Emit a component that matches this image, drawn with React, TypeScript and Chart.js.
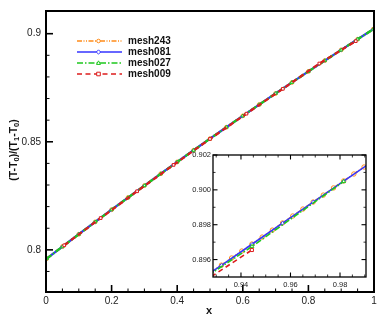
import { useEffect, useRef } from "react";
import { Chart, registerables } from "chart.js";
Chart.register(...registerables);

// ---------- main chart data ----------
const mainX = [0.002, 0.05, 0.1, 0.15, 0.2, 0.25, 0.3, 0.35, 0.4, 0.45, 0.5, 0.55, 0.6, 0.65, 0.7, 0.75, 0.8, 0.85, 0.9, 0.95, 0.998];
const main243Y = [0.79593, 0.80149, 0.80723, 0.81293, 0.81857, 0.82417, 0.82972, 0.83522, 0.84067, 0.84607, 0.85142, 0.85673, 0.86199, 0.8672, 0.87236, 0.87747, 0.88253, 0.88755, 0.89251, 0.89743, 0.90211];
const main081Y = [0.79595, 0.80150, 0.80724, 0.81293, 0.81857, 0.82417, 0.82972, 0.83522, 0.84067, 0.84607, 0.85142, 0.85673, 0.86199, 0.8672, 0.87236, 0.87747, 0.88253, 0.88755, 0.89251, 0.89743, 0.90210];
const main027Y = [0.79590, 0.80145, 0.80720, 0.81290, 0.81855, 0.82415, 0.82970, 0.83520, 0.84065, 0.84605, 0.85140, 0.85671, 0.86197, 0.86718, 0.87234, 0.87745, 0.88251, 0.88753, 0.89249, 0.89741, 0.90208];
const main009X = [0.0556, 0.1667, 0.2778, 0.3889, 0.5, 0.6111, 0.7222, 0.8333, 0.9444];
const main009Y = [0.8021, 0.8147, 0.8271, 0.8393, 0.8513, 0.863, 0.8745, 0.8862, 0.89655];

const mainXTicks = [0, 0.2, 0.4, 0.6, 0.8, 1];
const mainXLabels = ["0", "0.2", "0.4", "0.6", "0.8", "1"];
const mainXMinor = [0.05, 0.1, 0.15, 0.25, 0.3, 0.35, 0.45, 0.5, 0.55, 0.65, 0.7, 0.75, 0.85, 0.9, 0.95];
const mainYTicks = [0.8, 0.85, 0.9];
const mainYLabels = ["0.8", "0.85", "0.9"];
const mainYMinor = [0.79, 0.81, 0.82, 0.83, 0.84, 0.86, 0.87, 0.88, 0.89];

// ---------- inset data ----------
const inset243X = [0.92798, 0.9321, 0.93621, 0.94033, 0.94444, 0.94856, 0.95267, 0.95679, 0.96091, 0.96502, 0.96914, 0.97325, 0.97737, 0.98148, 0.9856, 0.98971, 0.99383];
const inset243Y = [0.89528, 0.89568, 0.89609, 0.89649, 0.89689, 0.89729, 0.89769, 0.8981, 0.8985, 0.8989, 0.8993, 0.8997, 0.90011, 0.90051, 0.90091, 0.90131, 0.90171];
const inset081X = [0.91975, 0.9321, 0.94444, 0.95679, 0.96914, 0.98148, 0.99383];
const inset081Y = [0.89448, 0.89567, 0.89688, 0.89809, 0.8993, 0.9005, 0.9017];
const inset027X = [0.90741, 0.94444, 0.98148];
const inset027Y = [0.89327, 0.89675, 0.90048];
const inset009X = [0.8333, 0.9444];
const inset009Y = [0.8862, 0.89655];

const insetXTicks = [0.94, 0.96, 0.98];
const insetXLabels = ["0.94", "0.96", "0.98"];
const insetXMinor = [0.93, 0.935, 0.945, 0.95, 0.955, 0.965, 0.97, 0.975, 0.985, 0.99];
const insetYTicks = [0.896, 0.898, 0.9, 0.902];
const insetYLabels = ["0.896", "0.898", "0.900", "0.902"];
const insetYMinor = [0.897, 0.899, 0.901];

const seriesNames = ["mesh243", "mesh081", "mesh027", "mesh009"];
const colors = { m243: "#ff8c1a", m081: "#3535ff", m027: "#1ec81e", m009: "#dd1c1c" };

const FONT = "'Liberation Sans', Arial, Helvetica, sans-serif";

const zip = (xs: number[], ys: number[]) => xs.map((x, i) => ({ x, y: ys[i] }));

function drawMarker(ctx: CanvasRenderingContext2D, style: string, x: number, y: number, r: number, color: string) {
  ctx.save();
  ctx.setLineDash([]);
  ctx.fillStyle = "#fff";
  ctx.strokeStyle = color;
  ctx.lineWidth = 1;
  ctx.beginPath();
  if (style === "rect") {
    ctx.rect(x - r, y - r, 2 * r, 2 * r);
  } else if (style === "triangle") {
    ctx.moveTo(x, y - r * 1.2);
    ctx.lineTo(x + r * 1.1, y + r * 0.8);
    ctx.lineTo(x - r * 1.1, y + r * 0.8);
    ctx.closePath();
  } else if (style === "rectRot") {
    ctx.moveTo(x, y - r * 1.2);
    ctx.lineTo(x + r * 1.2, y);
    ctx.lineTo(x, y + r * 1.2);
    ctx.lineTo(x - r * 1.2, y);
    ctx.closePath();
  } else {
    ctx.arc(x, y, r, 0, Math.PI * 2);
  }
  ctx.fill();
  ctx.stroke();
  ctx.restore();
}

function makeDatasets(d243: any[], d081: any[], d027: any[], d009: any[], radius: number, width: number) {
  // index 0 is drawn on top in Chart.js
  return [
    { label: seriesNames[3], data: d009, borderColor: colors.m009, backgroundColor: "#fff", borderDash: [5, 3.5], borderWidth: width, pointStyle: "rect", pointRadius: radius, pointBorderWidth: 1, showLine: true },
    { label: seriesNames[2], data: d027, borderColor: colors.m027, backgroundColor: "#fff", borderDash: [6, 2, 1.5, 2], borderWidth: width, pointStyle: "triangle", pointRadius: radius, pointBorderWidth: 1, showLine: true },
    { label: seriesNames[1], data: d081, borderColor: colors.m081, backgroundColor: "#fff", borderDash: [], borderWidth: width, pointStyle: "rectRot", pointRadius: radius * 0.8, pointBorderWidth: 1, showLine: true },
    { label: seriesNames[0], data: d243, borderColor: colors.m243, backgroundColor: "#fff", borderDash: [5, 1.5, 1, 1.5, 1, 1.5], borderWidth: width, pointStyle: "circle", pointRadius: radius, pointBorderWidth: 1, showLine: true },
  ];
}

function line(ctx: CanvasRenderingContext2D, x1: number, y1: number, x2: number, y2: number) {
  ctx.beginPath();
  ctx.moveTo(x1, y1);
  ctx.lineTo(x2, y2);
  ctx.stroke();
}

const mainDecor = {
  id: "mainDecor",
  afterDraw(chart: any) {
    const { ctx, chartArea: a, scales } = chart;
    const sx = scales.x, sy = scales.y;
    ctx.save();
    ctx.strokeStyle = "#000";
    ctx.setLineDash([]);
    ctx.lineWidth = 1;
    for (const v of mainXMinor) { const p = sx.getPixelForValue(v); line(ctx, p, a.bottom, p, a.bottom - 3.5); }
    for (const v of mainYMinor) { const p = sy.getPixelForValue(v); line(ctx, a.left, p, a.left + 3.5, p); }
    ctx.lineWidth = 1.6;
    for (const v of mainXTicks) { const p = sx.getPixelForValue(v); line(ctx, p, a.bottom, p, a.bottom - 7); }
    for (const v of mainYTicks) { const p = sy.getPixelForValue(v); line(ctx, a.left, p, a.left + 7, p); }
    ctx.lineWidth = 2;
    ctx.strokeRect(a.left, a.top, a.right - a.left, a.bottom - a.top);

    // legend
    const ds = chart.data.datasets;
    const rows = [41, 52, 63, 74];
    for (let i = 0; i < 4; i++) {
      const d = ds[3 - i];
      const y = rows[i];
      ctx.save();
      ctx.strokeStyle = d.borderColor;
      ctx.lineWidth = 1.6;
      ctx.setLineDash(d.borderDash);
      line(ctx, 77, y, 122, y);
      ctx.restore();
      drawMarker(ctx, d.pointStyle, 98.5, y, 1.8, d.borderColor);
      ctx.fillStyle = "#111";
      ctx.font = `bold 10px ${FONT}`;
      ctx.textBaseline = "middle";
      ctx.textAlign = "left";
      ctx.fillText(d.label, 128, y + 0.5);
    }

    // x title
    ctx.fillStyle = "#111";
    ctx.font = `bold 11px ${FONT}`;
    ctx.textAlign = "center";
    ctx.textBaseline = "alphabetic";
    ctx.fillText("x", 209, 314);

    // y title with subscripts
    const segs: [string, boolean][] = [["(T-T", false], ["0", true], [")/(T", false], ["1", true], ["-T", false], ["0", true], [")", false]];
    const big = `bold 10.5px ${FONT}`, small = `bold 7.5px ${FONT}`;
    let total = 0;
    for (const [t, s] of segs) { ctx.font = s ? small : big; total += ctx.measureText(t).width; }
    ctx.save();
    ctx.translate(13, 150);
    ctx.rotate(-Math.PI / 2);
    ctx.textAlign = "left";
    let cx = -total / 2;
    for (const [t, s] of segs) {
      ctx.font = s ? small : big;
      ctx.fillText(t, cx, s ? 6.3 : 3.8);
      cx += ctx.measureText(t).width;
    }
    ctx.restore();
    ctx.restore();
  },
};

const insetDecor = {
  id: "insetDecor",
  afterDraw(chart: any) {
    const { ctx, chartArea: a, scales } = chart;
    const sx = scales.x, sy = scales.y;
    ctx.save();
    ctx.strokeStyle = "#000";
    ctx.setLineDash([]);
    ctx.lineWidth = 0.8;
    for (const v of insetXMinor) { const p = sx.getPixelForValue(v); line(ctx, p, a.bottom, p, a.bottom - 2.5); line(ctx, p, a.top, p, a.top + 2.5); }
    for (const v of insetYMinor) { const p = sy.getPixelForValue(v); line(ctx, a.left, p, a.left + 2.5, p); line(ctx, a.right, p, a.right - 2.5, p); }
    ctx.lineWidth = 1.1;
    for (const v of insetXTicks) { const p = sx.getPixelForValue(v); line(ctx, p, a.bottom, p, a.bottom - 4.5); line(ctx, p, a.top, p, a.top + 4.5); }
    for (const v of insetYTicks) { const p = sy.getPixelForValue(v); line(ctx, a.left, p, a.left + 4.5, p); line(ctx, a.right, p, a.right - 4.5, p); }
    ctx.lineWidth = 1.3;
    ctx.strokeRect(a.left, a.top, a.right - a.left, a.bottom - a.top);
    ctx.restore();
  },
};

const whiteArea = {
  id: "whiteArea",
  beforeDatasetsDraw(chart: any) {
    const { ctx, chartArea: a } = chart;
    ctx.save();
    ctx.fillStyle = "#fff";
    ctx.fillRect(a.left, a.top, a.right - a.left, a.bottom - a.top);
    ctx.restore();
  },
};

export default function App() {
  const mainRef = useRef<HTMLCanvasElement>(null);
  const insetRef = useRef<HTMLCanvasElement>(null);

  useEffect(() => {
    const tickFont = { family: FONT, size: 10 };
    const main = new Chart(mainRef.current!, {
      type: "scatter",
      data: {
        datasets: makeDatasets(zip(mainX, main243Y), zip(mainX, main081Y), zip(mainX, main027Y), zip(main009X, main009Y), 1.9, 2.2) as any,
      },
      options: {
        animation: false,
        responsive: false,
        layout: { padding: { top: 6, right: 8, left: 0, bottom: 0 } },
        plugins: { legend: { display: false }, tooltip: { enabled: false } },
        scales: {
          x: {
            type: "linear",
            min: 0,
            max: 1,
            grid: { display: false, drawTicks: false },
            border: { display: false },
            afterBuildTicks: (s: any) => { s.ticks = mainXTicks.map((v) => ({ value: v })); },
            afterFit: (s: any) => { s.height = 27; },
            ticks: { autoSkip: false, maxRotation: 0, padding: 3, color: "#222", font: tickFont, callback: (_v: any, i: number) => mainXLabels[i] },
          },
          y: {
            type: "linear",
            min: 0.7805,
            max: 0.9105,
            grid: { display: false, drawTicks: false },
            border: { display: false },
            afterBuildTicks: (s: any) => { s.ticks = mainYTicks.map((v) => ({ value: v })); },
            afterFit: (s: any) => { s.width = 46; },
            ticks: { autoSkip: false, padding: 5, color: "#222", font: tickFont, callback: (_v: any, i: number) => mainYLabels[i] },
          },
        },
      },
      plugins: [mainDecor],
    });

    const insetFont = { family: FONT, size: 7.5 };
    const inset = new Chart(insetRef.current!, {
      type: "scatter",
      data: {
        datasets: makeDatasets(zip(inset243X, inset243Y), zip(inset081X, inset081Y), zip(inset027X, inset027Y), zip(inset009X, inset009Y), 2.2, 1.6) as any,
      },
      options: {
        animation: false,
        responsive: false,
        layout: { padding: { top: 10, right: 9, left: 0, bottom: 0 } },
        plugins: { legend: { display: false }, tooltip: { enabled: false } },
        scales: {
          x: {
            type: "linear",
            min: 0.9287,
            max: 0.9905,
            grid: { display: false, drawTicks: false },
            border: { display: false },
            afterBuildTicks: (s: any) => { s.ticks = insetXTicks.map((v) => ({ value: v })); },
            afterFit: (s: any) => { s.height = 18; },
            ticks: { autoSkip: false, maxRotation: 0, padding: 3, color: "#222", font: insetFont, callback: (_v: any, i: number) => insetXLabels[i] },
          },
          y: {
            type: "linear",
            min: 0.895,
            max: 0.902,
            grid: { display: false, drawTicks: false },
            border: { display: false },
            afterBuildTicks: (s: any) => { s.ticks = insetYTicks.map((v) => ({ value: v })); },
            afterFit: (s: any) => { s.width = 33; },
            ticks: { autoSkip: false, padding: 2, color: "#222", font: insetFont, callback: (_v: any, i: number) => insetYLabels[i] },
          },
        },
      },
      plugins: [whiteArea, insetDecor],
    });

    return () => {
      main.destroy();
      inset.destroy();
    };
  }, []);

  return (
    <div style={{ position: "fixed", left: 0, top: 0, width: 382, height: 319, background: "#fff" }}>
      <canvas ref={mainRef} width={382} height={319} style={{ position: "absolute", left: 0, top: 0, width: 382, height: 319 }} />
      <canvas ref={insetRef} width={195} height={150} style={{ position: "absolute", left: 180, top: 145, width: 195, height: 150 }} />
    </div>
  );
}
